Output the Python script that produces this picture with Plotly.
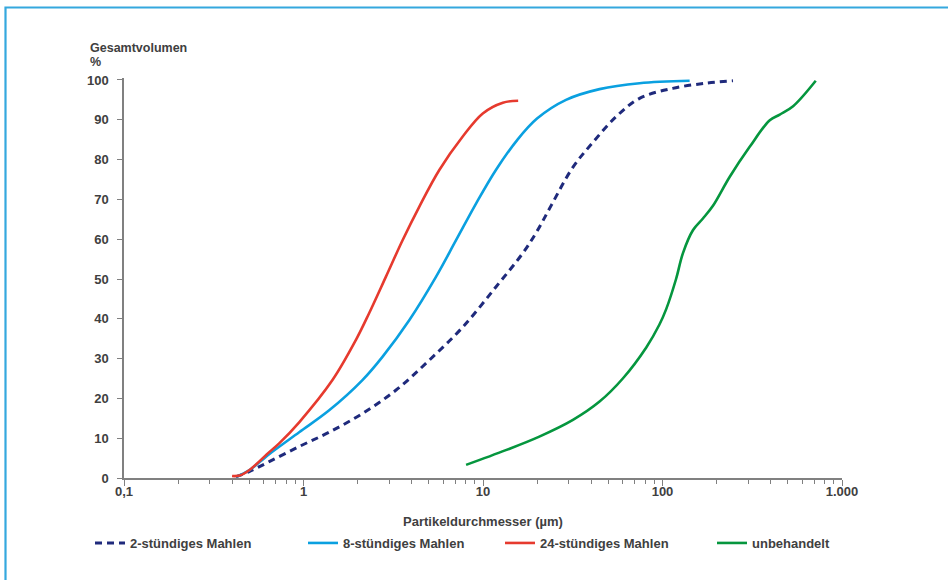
import plotly.graph_objects as go

# ---- data (particle diameter in µm, cumulative volume in %) ----
h2_x = [0.42, 0.498, 0.644, 0.946, 1.39, 2.13, 3.28, 5.02, 7.71, 11.8, 16.6, 20.0, 24.0, 31.6, 40.9, 55.2, 74.5, 114, 175, 247]
h2_y = [0.3, 1.6, 4.1, 7.9, 11.5, 16.2, 22.1, 29.6, 37.9, 48.0, 56.4, 62.0, 68.5, 78.0, 84.3, 90.8, 95.4, 97.9, 99.2, 99.8]

h8_x = [0.42, 0.5, 0.644, 0.946, 1.39, 2.13, 2.76, 3.89, 5.48, 7.09, 9.16, 11.8, 15.5, 20.0, 29.0, 44.6, 74.5, 141.6]
h8_y = [0.3, 2.0, 6.0, 11.5, 17.0, 24.6, 30.5, 39.7, 50.6, 59.8, 69.0, 77.4, 84.9, 90.3, 95.0, 97.7, 99.2, 99.8]

h24_x = [0.40, 0.44, 0.5, 0.644, 0.732, 0.946, 1.45, 1.96, 2.32, 2.88, 3.57, 4.42, 5.71, 7.71, 9.97, 12.9, 15.7]
h24_y = [0.5, 0.6, 2.0, 6.5, 8.7, 14.0, 24.6, 34.7, 41.4, 50.6, 59.8, 68.2, 77.4, 85.8, 91.6, 94.3, 94.8]

raw_x = [8.05, 13.4, 20.6, 31.7, 44.6, 60.1, 81.2, 96, 105, 119, 130, 148, 168, 191, 237, 306, 396, 450, 534, 714]
raw_y = [3.3, 7.0, 10.4, 14.6, 19.2, 25.0, 32.8, 38.5, 42.5, 50.0, 56.5, 62.3, 65.2, 68.4, 75.7, 83.2, 89.9, 91.3, 93.4, 99.8]

series_names = ["2-stündiges Mahlen", "8-stündiges Mahlen", "24-stündiges Mahlen", "unbehandelt"]

x_tickvals = [0.1, 1, 10, 100, 1000]
x_ticktext = ["0,1", "1", "10", "100", "1.000"]
x_minor = [m * 10 ** e for e in range(-1, 3) for m in range(2, 10)]
y_tickvals = list(range(0, 101, 10))

x_title = "Partikeldurchmesser (µm)"
y_title_1 = "Gesamtvolumen"
y_title_2 = "%"

# ---- layout geometry ----
W, H = 948, 580
ML, MR, MT, MB = 124, 106, 78, 102
PW, PH = W - ML - MR, H - MT - MB


def px(xp):
    return (xp - ML) / PW


def py(yp):
    return (H - MB - yp) / PH


TXT = "#404040"
AX = "#808080"
FONT = dict(family="Liberation Sans, Arial, sans-serif", size=13, color=TXT, weight="bold")
SM = 1.0

fig = go.Figure()
fig.add_trace(go.Scatter(x=h2_x, y=h2_y, mode="lines", name=series_names[0], line=dict(color="#1f2a7c", width=3, dash="7px,5px", shape="spline", smoothing=SM), legend="legend"))
fig.add_trace(go.Scatter(x=h8_x, y=h8_y, mode="lines", name=series_names[1], line=dict(color="#0aa0e0", width=2.6, shape="spline", smoothing=SM), legend="legend2"))
fig.add_trace(go.Scatter(x=h24_x, y=h24_y, mode="lines", name=series_names[2], line=dict(color="#e63a2e", width=2.6, shape="spline", smoothing=SM), legend="legend3"))
fig.add_trace(go.Scatter(x=raw_x, y=raw_y, mode="lines", name=series_names[3], line=dict(color="#05963e", width=2.6, shape="spline", smoothing=SM), legend="legend4"))

leg_common = dict(orientation="h", xanchor="left", yanchor="middle", font=FONT, bgcolor="rgba(0,0,0,0)", borderwidth=0)
leg_y = py(543)
fig.update_layout(
    legend=dict(x=px(90), y=leg_y, **leg_common),
    legend2=dict(x=px(303), y=leg_y, **leg_common),
    legend3=dict(x=px(500), y=leg_y, **leg_common),
    legend4=dict(x=px(712), y=leg_y, **leg_common),
)

fig.update_layout(
    width=W, height=H,
    margin=dict(l=ML, r=MR, t=MT, b=MB),
    paper_bgcolor="white", plot_bgcolor="white",
    font=FONT,
    showlegend=True,
    xaxis=dict(type="log", range=[-1, 3], tickvals=x_tickvals, ticktext=x_ticktext,
               showgrid=False, zeroline=False, showline=True, linecolor=AX, linewidth=1.5,
               ticks="outside", ticklen=6, tickwidth=1.3, tickcolor=AX, tickfont=FONT,
               ticklabelstandoff=-5,
               minor=dict(tickvals=x_minor, ticks="outside", ticklen=4, tickwidth=1.2, tickcolor=AX, showgrid=False)),
    yaxis=dict(range=[0, 100.5], tickvals=y_tickvals, showgrid=False, zeroline=False,
               showline=True, linecolor=AX, linewidth=1.5,
               ticks="outside", ticklen=5, tickwidth=1.3, tickcolor=AX, tickfont=FONT,
               ticklabelstandoff=6),
    xaxis2=dict(type="log", range=[-1, 3], overlaying="x", anchor="y", side="bottom",
                tickvals=x_tickvals, showticklabels=False, showgrid=False, zeroline=False, showline=False,
                ticks="inside", ticklen=5, tickwidth=1.3, tickcolor=AX,
                minor=dict(tickvals=x_minor, ticks="inside", ticklen=4, tickwidth=1.2, tickcolor=AX, showgrid=False)),
    yaxis2=dict(range=[0, 100.5], overlaying="y", anchor="x", side="left", tickvals=y_tickvals,
                showticklabels=False, showgrid=False, zeroline=False, showline=False,
                ticks="inside", ticklen=5, tickwidth=1.3, tickcolor=AX),
)

fig.add_annotation(text=y_title_1, xref="paper", yref="paper", x=px(88), y=py(48), xanchor="left", yanchor="middle", showarrow=False, font=dict(FONT, size=12.5))
fig.add_annotation(text=y_title_2, xref="paper", yref="paper", x=px(88), y=py(62), xanchor="left", yanchor="middle", showarrow=False, font=dict(FONT, size=12.5))
fig.add_annotation(text=x_title, xref="paper", yref="paper", x=px(483), y=py(521), xanchor="center", yanchor="middle", showarrow=False, font=FONT)

# frame (top and left edges)
fig.add_shape(type="path", xref="paper", yref="paper",
              path=f"M {px(5.5)},{py(H + 5)} L {px(5.5)},{py(7.5)} L {px(W + 5)},{py(7.5)}",
              line=dict(color="#35a8de", width=2.2))

fig.write_html("out.html", config={"displayModeBar": False},
               post_script="document.body.style.margin='0px';document.body.style.overflow='hidden';")
